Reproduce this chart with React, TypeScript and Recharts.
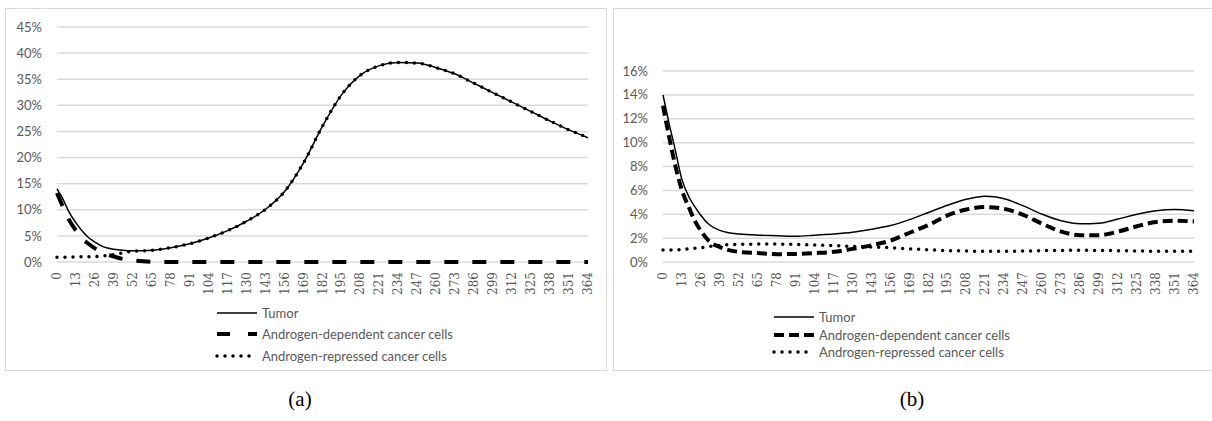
import { CartesianGrid, Line, LineChart, XAxis, YAxis } from "recharts";

// days (x axis runs 0..364, labelled every 13 days)
const days = [0, 4, 8, 13, 18, 22, 26, 32, 39, 45, 52, 65, 78, 91, 104, 117, 130, 143, 156, 169, 182, 195, 208, 221, 234, 247, 260, 273, 286, 299, 312, 325, 338, 351, 364];
const dayTicks = [0, 13, 26, 39, 52, 65, 78, 91, 104, 117, 130, 143, 156, 169, 182, 195, 208, 221, 234, 247, 260, 273, 286, 299, 312, 325, 338, 351, 364];

// panel (a), percent
const tumorA = [14.0, 12.1, 9.7, 7.5, 5.7, 4.6, 3.8, 2.9, 2.45, 2.25, 2.15, 2.25, 2.75, 3.5, 4.6, 6.0, 7.8, 10.1, 13.5, 19.0, 26.0, 32.0, 35.8, 37.6, 38.2, 38.1, 37.2, 36.0, 34.2, 32.4, 30.6, 28.8, 27.0, 25.3, 23.8];
const dependentA = [13.2, 10.6, 8.2, 6.0, 4.3, 3.4, 2.6, 1.7, 1.05, 0.6, 0.3, 0.05, 0, 0, 0, 0, 0, 0, 0, 0, 0, 0, 0, 0, 0, 0, 0, 0, 0, 0, 0, 0, 0, 0, 0];
const repressedA = [0.9, 0.9, 0.95, 0.95, 1.0, 1.0, 1.05, 1.15, 1.4, 1.75, 2.05, 2.25, 2.75, 3.5, 4.6, 6.0, 7.8, 10.1, 13.5, 19.0, 26.0, 32.0, 35.8, 37.6, 38.2, 38.1, 37.2, 36.0, 34.2, 32.4, 30.6, 28.8, 27.0, 25.3, 23.8];
const ticksA = [0, 5, 10, 15, 20, 25, 30, 35, 40, 45];

// panel (b), percent
const tumorB = [14.0, 11.7, 9.6, 6.9, 5.4, 4.6, 3.9, 3.1, 2.65, 2.45, 2.35, 2.25, 2.2, 2.15, 2.25, 2.35, 2.5, 2.75, 3.05, 3.55, 4.15, 4.75, 5.25, 5.5, 5.3, 4.7, 4.0, 3.45, 3.2, 3.25, 3.6, 4.0, 4.3, 4.4, 4.3];
const dependentB = [13.1, 10.6, 8.3, 6.0, 4.5, 3.4, 2.6, 1.7, 1.25, 1.0, 0.85, 0.75, 0.65, 0.68, 0.75, 0.85, 1.1, 1.4, 1.8, 2.45, 3.1, 3.9, 4.4, 4.6, 4.45, 3.95, 3.2, 2.55, 2.25, 2.25, 2.55, 3.0, 3.35, 3.45, 3.4];
const repressedB = [1.0, 1.0, 1.0, 1.05, 1.1, 1.15, 1.2, 1.3, 1.4, 1.45, 1.48, 1.5, 1.5, 1.47, 1.42, 1.37, 1.3, 1.25, 1.2, 1.1, 1.02, 0.96, 0.92, 0.9, 0.9, 0.92, 0.95, 0.97, 0.98, 0.97, 0.95, 0.92, 0.9, 0.9, 0.9];
const ticksB = [0, 2, 4, 6, 8, 10, 12, 14, 16];

const seriesNames = ["Tumor", "Androgen-dependent cancer cells", "Androgen-repressed cancer cells"];

const rowsA = days.map((d, i) => ({ day: d, tumor: tumorA[i], dep: dependentA[i], rep: repressedA[i] }));
const rowsB = days.map((d, i) => ({ day: d, tumor: tumorB[i], dep: dependentB[i], rep: repressedB[i] }));

const GRAY = "#595959";
const GRID = "#d9d9d9";

function DayTick(props: any) {
  const { x, y, payload } = props;
  return (
    <text
      x={x}
      y={y}
      transform={`rotate(-90 ${x} ${y})`}
      textAnchor="end"
      dy={4}
      fill={GRAY}
      fontSize={12}
      fontFamily="'DejaVu Serif', serif"
    >
      {payload.value}
    </text>
  );
}

function LegendBlock({ left, top, gap, dash }: { left: number; top: number; gap: number; dash: string }) {
  const styles = [
    { w: 1.5, d: undefined, cap: "butt" },
    { w: 4, d: dash, cap: "butt" },
    { w: 3.5, d: "0 8", cap: "round" },
  ];
  return (
    <div style={{ position: "absolute", left, top }}>
      {seriesNames.map((n, i) => (
        <div key={n} style={{ position: "absolute", top: i * gap - 9, left: 0, height: 18, display: "flex", alignItems: "center", whiteSpace: "nowrap" }}>
          <svg width={44} height={18}>
            <line x1={2} y1={9} x2={42} y2={9} stroke="#000" strokeWidth={styles[i].w} strokeDasharray={styles[i].d} strokeLinecap={styles[i].cap as any} />
          </svg>
          <span style={{ marginLeft: 3, fontFamily: "Lato, sans-serif", fontSize: 13, color: GRAY }}>{n}</span>
        </div>
      ))}
    </div>
  );
}

function Panel({ rows, ticks, max, top, dash }: { rows: any[]; ticks: number[]; max: number; top: number; dash: string }) {
  return (
    <LineChart width={606} height={370} data={rows} margin={{ top, right: 18, bottom: 70, left: 0 }}>
      <CartesianGrid vertical={false} stroke={GRID} strokeWidth={1.5} />
      <XAxis
        dataKey="day"
        type="number"
        domain={[0, 364]}
        ticks={dayTicks}
        interval={0}
        axisLine={false}
        tickLine={false}
        tickSize={0}
        tickMargin={10}
        height={38}
        tick={<DayTick />}
      />
      <YAxis
        domain={[0, max]}
        ticks={ticks}
        width={57}
        axisLine={false}
        tickLine={false}
        tickSize={0}
        tickMargin={15}
        tickFormatter={(v: number) => `${v}%`}
        tick={{ fill: GRAY, fontSize: 13, fontFamily: "Lato, sans-serif" }}
      />
      <Line type="monotone" dataKey="tumor" stroke="#000" strokeWidth={1.5} dot={false} isAnimationActive={false} />
      <Line type="monotone" dataKey="dep" stroke="#000" strokeWidth={4} strokeDasharray={dash} dot={false} isAnimationActive={false} />
      <Line type="monotone" dataKey="rep" stroke="#000" strokeWidth={3.5} strokeDasharray="0 8" strokeLinecap="round" dot={false} isAnimationActive={false} />
    </LineChart>
  );
}

export default function App() {
  return (
    <div style={{ position: "absolute", left: 0, top: 0, width: 1212, height: 421, overflow: "hidden", background: "#fff" }}>
      <div style={{ position: "absolute", left: 5, top: 8, width: 600, height: 361, border: `1px solid ${GRID}` }} />
      <div style={{ position: "absolute", left: 613, top: 8, width: 620, height: 361, border: `1px solid ${GRID}` }} />

      <div style={{ position: "absolute", left: 0, top: 0 }}>
        <Panel rows={rowsA} ticks={ticksA} max={45} top={27} dash="14 14" />
      </div>
      <div style={{ position: "absolute", left: 606, top: 0 }}>
        <Panel rows={rowsB} ticks={ticksB} max={16} top={71} dash="10 5" />
      </div>

      <LegendBlock left={215} top={313} gap={21.3} dash="13 18" />
      <LegendBlock left={772} top={317} gap={17.5} dash="10 5" />

      <div style={{ position: "absolute", left: 270, top: 387, width: 60, textAlign: "center", fontFamily: "'Liberation Serif', serif", fontSize: 21, color: "#000" }}>(a)</div>
      <div style={{ position: "absolute", left: 882, top: 387, width: 60, textAlign: "center", fontFamily: "'Liberation Serif', serif", fontSize: 21, color: "#000" }}>(b)</div>
    </div>
  );
}
